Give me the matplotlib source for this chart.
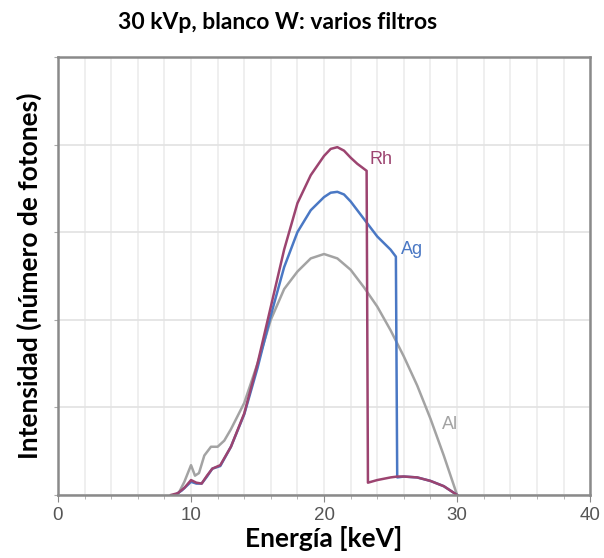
import matplotlib.pyplot as plt
import numpy as np
from matplotlib.ticker import MultipleLocator

# Spectra (energy in keV, intensity in arbitrary units)
rh_e = [8.5, 9, 9.5, 10, 10.4, 10.8, 11.2, 11.6, 12.2, 13, 14, 15, 16, 17, 18, 19, 20,
        20.5, 21, 21.5, 22, 22.5, 23.2, 23.3, 24, 25, 25.5, 26, 27, 28, 29, 30]
rh_i = [0, 0.02, 0.08, 0.17, 0.14, 0.13, 0.22, 0.3, 0.34, 0.55, 0.93, 1.5, 2.15, 2.8, 3.33,
        3.65, 3.87, 3.95, 3.97, 3.93, 3.85, 3.78, 3.7, 0.14, 0.17, 0.2, 0.21, 0.21, 0.2,
        0.16, 0.1, 0]

ag_e = [8.8, 9.3, 10, 10.4, 10.8, 11.2, 11.6, 12.2, 13, 14, 15, 16, 17, 18, 19, 20, 20.5,
        21, 21.5, 22, 23, 24, 25, 25.4, 25.5, 26, 27, 28, 29, 30]
ag_i = [0, 0.05, 0.15, 0.13, 0.13, 0.21, 0.3, 0.33, 0.55, 0.92, 1.45, 2.05, 2.6, 3.0, 3.25,
        3.4, 3.45, 3.46, 3.43, 3.35, 3.15, 2.95, 2.8, 2.72, 0.2, 0.21, 0.2, 0.16, 0.1, 0]

al_e = [9, 9.5, 10, 10.3, 10.6, 11, 11.5, 12, 12.5, 13, 14, 15, 16, 17, 18, 19, 20, 21, 22,
        23, 24, 25, 26, 27, 28, 29, 30]
al_i = [0, 0.15, 0.34, 0.22, 0.25, 0.45, 0.55, 0.55, 0.62, 0.75, 1.05, 1.5, 2.0, 2.35, 2.55,
        2.7, 2.75, 2.7, 2.57, 2.37, 2.15, 1.88, 1.58, 1.25, 0.87, 0.45, 0]

x_ticks = [0, 10, 20, 30, 40]

fig = plt.figure(figsize=(6.04, 5.58), dpi=100)
ax = fig.add_axes([0.096, 0.113, 0.881, 0.785])

ax.plot(al_e, al_i, color='#a3a3a3', lw=1.8)
ax.plot(ag_e, ag_i, color='#4a78c4', lw=1.8)
ax.plot(rh_e, rh_i, color='#9c4470', lw=1.8)

lbl = dict(fontsize=13, ha='center', va='center', family='Liberation Sans')
ax.text(24.3, 3.83, 'Rh', color='#9c4470', **lbl)
ax.text(26.6, 2.8, 'Ag', color='#4a78c4', **lbl)
ax.text(29.5, 0.8, 'Al', color='#a3a3a3', **lbl)

ax.set_xlim(0, 40)
ax.set_ylim(0, 5)
ax.set_xticks(x_ticks)
ax.xaxis.set_minor_locator(MultipleLocator(2))
ax.yaxis.set_major_locator(MultipleLocator(1))
ax.set_yticklabels([])
ax.tick_params(axis='y', length=3, color='#aaaaaa')
ax.tick_params(axis='x', which='major', length=5, color='#888888', labelsize=13.5,
               labelcolor='#555555', pad=4)
ax.tick_params(axis='x', which='minor', length=3, color='#aaaaaa')
for t in ax.get_xticklabels():
    t.set_family('Liberation Sans')
for s in ax.spines.values():
    s.set_color('#8a8a8a')
    s.set_linewidth(1.8)

# grid
ax.set_axisbelow(True)
ax.grid(True, which='both', axis='x', color='#ebebeb', lw=1.1)
ax.grid(True, which='major', axis='y', color='#e2e2e2', lw=1.2)

ax.set_xlabel('Energía [keV]', fontsize=19, fontweight='bold', family='Lato', labelpad=1)
ax.set_ylabel('Intensidad (número de fotones)', fontsize=19, fontweight='bold', family='Lato',
              labelpad=5)
fig.suptitle('30 kVp, blanco W: varios filtros', fontsize=16.5, fontweight='bold', family='Lato',
             x=0.459, y=0.978)

fig.savefig('out.png', dpi=100)
